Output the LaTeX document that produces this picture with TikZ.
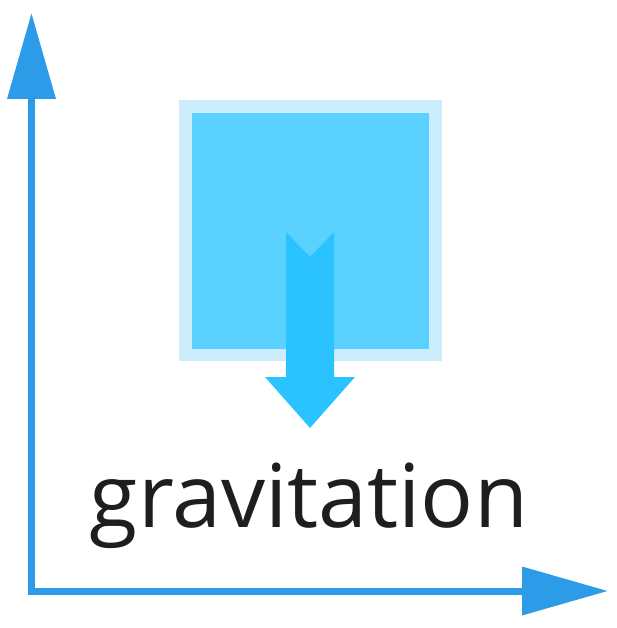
\documentclass[tikz,border=0pt]{standalone}
\usepackage{fontspec}
\setmainfont{Open Sans}
\usetikzlibrary{arrows.meta}
\definecolor{axisblue}{RGB}{44,155,232}
\definecolor{boxedge}{RGB}{204,238,252}
\definecolor{boxfill}{RGB}{91,209,255}
\definecolor{forceblue}{RGB}{42,195,255}
\definecolor{labeldark}{RGB}{30,30,30}

\begin{document}
\begin{tikzpicture}[x=1pt,y=-1pt,>={Triangle[length=86pt,width=47pt]},
  block/.style={inner sep=0pt,outer sep=0pt}]
  \useasboundingbox (0,0) rectangle (616,628);
  % axes
  \coordinate (O) at (31.5,591);
  \coordinate (ytip) at (31.5,13);
  \coordinate (xtip) at (608,591);
  \draw[<->,line width=7pt,axisblue] (ytip)--(O)--(xtip);
  % the mass
  \node[block,fill=boxedge,minimum width=263pt,minimum height=261pt] (mass) at (310.5,230.5) {};
  \node[block,fill=boxfill,minimum width=237pt,minimum height=236pt] (massin) at (310.5,231) {};
  % gravity arrow
  \fill[forceblue] (286,232)--(310,257)--(334,232)--(334,377)--(355,377)--(310,428)
    --(265,377)--(286,377)--cycle;
  \node[anchor=base,font=\fontsize{88}{100}\selectfont,text=labeldark] (label) at (309,527) {gravitation};
\end{tikzpicture}
\end{document}
